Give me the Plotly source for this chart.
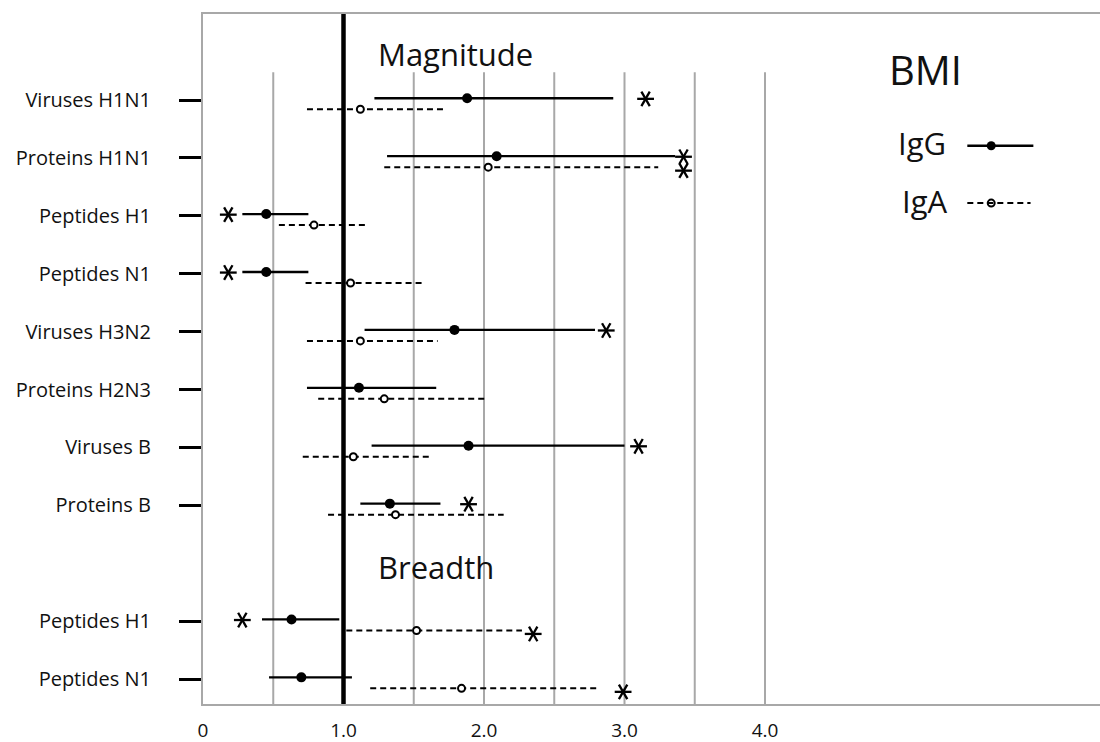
import plotly.graph_objects as go

# ---------------- data ----------------
magnitude_labels = ["Viruses H1N1", "Proteins H1N1", "Peptides H1", "Peptides N1",
                    "Viruses H3N2", "Proteins H2N3", "Viruses B", "Proteins B"]
breadth_labels = ["Peptides H1", "Peptides N1"]

igg_est  = [1.88, 2.09, 0.45, 0.45, 1.79, 1.11, 1.89, 1.33, 0.63, 0.70]
igg_low  = [1.22, 1.31, 0.28, 0.28, 1.15, 0.74, 1.20, 1.12, 0.42, 0.47]
igg_high = [2.92, 3.36, 0.75, 0.75, 2.79, 1.66, 3.00, 1.69, 0.97, 1.06]

iga_est  = [1.12, 2.03, 0.79, 1.05, 1.12, 1.29, 1.07, 1.37, 1.52, 1.84]
iga_low  = [0.74, 1.29, 0.54, 0.73, 0.74, 0.82, 0.71, 0.89, 1.02, 1.19]
iga_high = [1.72, 3.24, 1.16, 1.56, 1.67, 2.01, 1.61, 2.14, 2.27, 2.81]

# position of significance asterisk (None = not significant)
igg_star = [3.15, 3.42, 0.18, 0.18, 2.87, None, 3.10, 1.89, 0.28, None]
iga_star = [None, 3.42, None, None, None, None, None, None, 2.35, 2.99]

x_tick_vals = [0, 1, 2, 3, 4]
x_tick_text = ["0", "1.0", "2.0", "3.0", "4.0"]
grid_vals = [0.5, 1.5, 2.0, 2.5, 3.0, 3.5, 4.0]
reference_value = 1.0

# ---------------- layout helpers ----------------
labels = magnitude_labels + breadth_labels
rows = list(range(len(magnitude_labels))) + [len(magnitude_labels) + 1 + i for i in range(len(breadth_labels))]
IGG_OFF = -0.03
IGA_OFF = 0.16
FONT = "Open Sans"
INK = "#111111"
GRID = "#a8a8a8"

Y_TOP, Y_BOT = -1.485, 10.43
X_MAX = (1100 - 203) / 140.5


def segs(lo, hi, ys):
    xs, yy = [], []
    for a, b, y in zip(lo, hi, ys):
        xs += [a, b, None]
        yy += [y, y, None]
    return xs, yy


fig = go.Figure()

# gridlines
for g in grid_vals:
    fig.add_trace(go.Scatter(x=[g, g], y=[-0.48, Y_BOT], mode="lines",
                             line=dict(color=GRID, width=2), hoverinfo="skip", showlegend=False))
# reference line
fig.add_trace(go.Scatter(x=[reference_value, reference_value], y=[Y_TOP, Y_BOT], mode="lines",
                         line=dict(color="black", width=4.5), hoverinfo="skip", showlegend=False))

y_igg = [r + IGG_OFF for r in rows]
y_iga = [r + IGA_OFF for r in rows]

# IgG intervals
xs, yy = segs(igg_low, igg_high, y_igg)
fig.add_trace(go.Scatter(x=xs, y=yy, mode="lines", line=dict(color="black", width=2.3),
                         showlegend=False, hoverinfo="skip"))
# IgA intervals (dashed)
xs, yy = segs(iga_low, iga_high, y_iga)
fig.add_trace(go.Scatter(x=xs, y=yy, mode="lines", line=dict(color="black", width=2, dash="6px,4px"),
                         showlegend=False, hoverinfo="skip"))
# points
fig.add_trace(go.Scatter(x=igg_est, y=y_igg, mode="markers", name="IgG",
                         marker=dict(color="black", size=10), showlegend=False))
fig.add_trace(go.Scatter(x=iga_est, y=y_iga, mode="markers", name="IgA",
                         marker=dict(color="white", size=7, line=dict(color="black", width=2)),
                         showlegend=False))

# asterisks
sx, sy = [], []
for s, y in zip(igg_star, y_igg):
    if s is not None:
        sx.append(s); sy.append(y + 0.01)
for s, y in zip(iga_star, y_iga):
    if s is not None:
        sx.append(s); sy.append(y + 0.06)
for sym, ang in [("line-ew", 0), ("line-ns", 30), ("line-ns", -30)]:
    fig.add_trace(go.Scatter(x=sx, y=sy, mode="markers", showlegend=False, hoverinfo="skip",
                             marker=dict(symbol=sym, angle=ang, size=12,
                                         line=dict(color="black", width=2.3))))

# legend samples (drawn manually: label left of the sample)
fig.add_shape(type="line", x0=5.44, x1=5.91, y0=0.79, y1=0.79, line=dict(color="black", width=2.3))
fig.add_trace(go.Scatter(x=[5.61], y=[0.79], mode="markers", marker=dict(color="black", size=9),
                         showlegend=False, hoverinfo="skip"))
fig.add_shape(type="line", x0=5.44, x1=5.89, y0=1.78, y1=1.78,
              line=dict(color="black", width=2, dash="6px,4px"))
fig.add_trace(go.Scatter(x=[5.61], y=[1.78], mode="markers",
                         marker=dict(color="white", size=7, line=dict(color="black", width=2)),
                         showlegend=False, hoverinfo="skip"))

ann = [
    dict(text="Magnitude", x=1.23, y=-0.80, xanchor="left", size=31),
    dict(text="Breadth", x=1.23, y=8.07, xanchor="left", size=31),
    dict(text="BMI", x=5.14, y=-0.53, xanchor="center", size=40),
    dict(text="IgG", x=5.30, y=0.74, xanchor="right", size=31),
    dict(text="IgA", x=5.31, y=1.74, xanchor="right", size=31),
]
for a in ann:
    fig.add_annotation(text=a["text"], x=a["x"], y=a["y"], xref="x", yref="y",
                       xanchor=a["xanchor"], yanchor="middle", showarrow=False,
                       font=dict(family=FONT, size=a["size"], color=INK))

fig.update_layout(
    width=1100, height=742,
    margin=dict(l=203, r=0, t=14, b=38),
    paper_bgcolor="white", plot_bgcolor="white",
    font=dict(family=FONT, color=INK),
    xaxis=dict(range=[0, X_MAX], tickvals=x_tick_vals, ticktext=x_tick_text, automargin=False,
               showgrid=False, zeroline=False, showline=True, linecolor=GRID, linewidth=2,
               mirror=True, ticks="", tickfont=dict(size=19, color=INK), ticklabelstandoff=8),
    yaxis=dict(range=[Y_BOT, Y_TOP], tickvals=rows, ticktext=labels, automargin=False,
               showgrid=False, zeroline=False, showline=True, linecolor=GRID, linewidth=2,
               ticks="outside", ticklen=22, tickwidth=2.5, tickcolor="black",
               tickfont=dict(size=20, color=INK), ticklabelstandoff=24),
)

fig.write_html("out.html", config={"displayModeBar": False},
               post_script="document.body.style.margin='0';document.body.style.overflow='hidden';")
